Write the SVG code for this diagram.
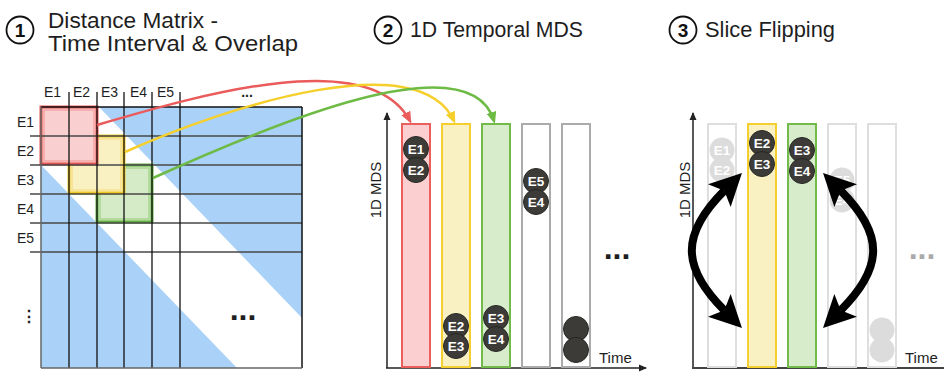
<svg xmlns="http://www.w3.org/2000/svg" width="944" height="374" viewBox="0 0 944 374">
<defs>
<style>
text{font-family:"Liberation Sans",Arial,sans-serif;fill:#1e1e1e}
.title{font-size:22.5px}
.num{font-size:19px;font-weight:bold;text-anchor:middle;fill:#111}
.numc{fill:none;stroke:#111;stroke-width:1.8}
.lbl{font-size:14px}
.vl{stroke:#111;stroke-width:1.3}
.hl{stroke:#474747;stroke-width:1.5}
.blue{fill:#aad2f8}
.br{fill:#fbcfcf;stroke:#ea5f5c;stroke-width:2}
.by{fill:#faf1c3;stroke:#f5cf30;stroke-width:2}
.bg{fill:#d6ecca;stroke:#72bb4a;stroke-width:2}
.bw{fill:#fff;stroke:#ababab;stroke-width:2}
.bf{fill:#fff;stroke:#dedede;stroke-width:2}
.dot{fill:#3c3b38;stroke:#262624;stroke-width:1}
.fdot{fill:#dcdcdc}
.dt{fill:#fff;font-size:13.5px;font-weight:bold;text-anchor:middle}
.axis{stroke:#222;stroke-width:1.5;fill:none}
.base{stroke:#444;stroke-width:2}
.ax{font-size:15px}
.ell{font-size:32px;font-weight:bold;text-anchor:middle}
.con{fill:none;stroke-width:2.5}
.flip{fill:none;stroke:#000;stroke-width:8}
</style>
<marker id="mr" markerUnits="userSpaceOnUse" markerWidth="12" markerHeight="10" refX="9" refY="5" orient="auto"><path d="M0,0 L12,5 L0,10 Z" fill="#ea5b5b"/></marker>
<marker id="my" markerUnits="userSpaceOnUse" markerWidth="12" markerHeight="10" refX="9" refY="5" orient="auto"><path d="M0,0 L12,5 L0,10 Z" fill="#f5cf2b"/></marker>
<marker id="mg" markerUnits="userSpaceOnUse" markerWidth="12" markerHeight="10" refX="9" refY="5" orient="auto"><path d="M0,0 L12,5 L0,10 Z" fill="#6dbb45"/></marker>
<marker id="mk" markerUnits="userSpaceOnUse" markerWidth="33" markerHeight="32" refX="7" refY="16" orient="auto-start-reverse"><path d="M0,0 L32,16 L0,32 L7,16 Z" fill="#000"/></marker>
<marker id="ma" markerUnits="userSpaceOnUse" markerWidth="8" markerHeight="8" refX="7" refY="4" orient="auto"><path d="M0,0.5 L8,4 L0,7.5 Z" fill="#222"/></marker>
</defs>
<rect width="944" height="374" fill="#fff"/>

<g id="title1">
<circle cx="20" cy="30" r="13.5" class="numc"/><text x="20" y="37" class="num">1</text>
<text x="48" y="28" class="title" textLength="170" lengthAdjust="spacingAndGlyphs">Distance Matrix -</text>
<text x="48" y="51" class="title" textLength="250" lengthAdjust="spacingAndGlyphs">Time Interval &amp; Overlap</text>
</g>
<g id="title2">
<circle cx="388" cy="30" r="13.5" class="numc"/><text x="388" y="37" class="num">2</text>
<text x="410" y="37" class="title" textLength="173" lengthAdjust="spacingAndGlyphs">1D Temporal MDS</text>
</g>
<g id="title3">
<circle cx="683" cy="30" r="13.5" class="numc"/><text x="683" y="37" class="num">3</text>
<text x="705" y="37" class="title" textLength="130" lengthAdjust="spacingAndGlyphs">Slice Flipping</text>
</g>

<g id="matrix">
<rect x="41" y="107" width="261" height="261" fill="#fff"/>
<polygon class="blue" points="99,107 302,107 302,318"/>
<polygon class="blue" points="41,165 237,368 41,368"/>
<g id="box-green"><rect x="97" y="165" width="55" height="57" fill="#d5ebc8" stroke="#5fae3c" stroke-width="3"/><rect x="100" y="168" width="49" height="51" fill="none" stroke="#a8d68c" stroke-width="1.5"/></g>
<g id="box-yellow"><rect x="69" y="136" width="55" height="57" fill="#faf1c3" stroke="#f0c823" stroke-width="3"/><rect x="72" y="139" width="49" height="51" fill="none" stroke="#f8e08a" stroke-width="1.5"/></g>
<g id="box-red"><rect x="41" y="107" width="56" height="57" fill="#f9cfcf" stroke="#e4524f" stroke-width="3"/><rect x="44" y="110" width="50" height="51" fill="none" stroke="#f3a5a4" stroke-width="1.5"/></g>
<line class="hl" x1="30" y1="136" x2="302" y2="136"/>
<line class="hl" x1="30" y1="165" x2="302" y2="165"/>
<line class="hl" x1="30" y1="194" x2="302" y2="194"/>
<line class="hl" x1="30" y1="223" x2="302" y2="223"/>
<line class="hl" x1="30" y1="252" x2="302" y2="252"/>
<line class="vl" x1="69" y1="92" x2="69" y2="368"/>
<line class="vl" x1="97" y1="92" x2="97" y2="368"/>
<line class="vl" x1="124" y1="92" x2="124" y2="368"/>
<line class="vl" x1="152" y1="92" x2="152" y2="368" stroke="#555"/>
<line class="vl" x1="180" y1="92" x2="180" y2="368"/>
<line x1="41" y1="107" x2="302" y2="107" stroke="#111" stroke-width="1.5"/>
<line x1="302" y1="107" x2="302" y2="368" stroke="#111" stroke-width="1.5"/>
<line x1="41" y1="107" x2="41" y2="368" stroke="#666" stroke-width="1.5"/>
<line x1="41" y1="368" x2="302" y2="368" stroke="#666" stroke-width="1.5"/>
<text class="lbl" x="44" y="97">E1</text>
<text class="lbl" x="73" y="97">E2</text>
<text class="lbl" x="101" y="97">E3</text>
<text class="lbl" x="130" y="97">E4</text>
<text class="lbl" x="157" y="97">E5</text>
<text class="lbl" x="247" y="97" text-anchor="middle" font-weight="bold">...</text>
<text class="lbl" x="17" y="127">E1</text>
<text class="lbl" x="17" y="156">E2</text>
<text class="lbl" x="17" y="185">E3</text>
<text class="lbl" x="17" y="214">E4</text>
<text class="lbl" x="17" y="243">E5</text>
<text x="29" y="322" font-size="16" font-family="DejaVu Sans, sans-serif" text-anchor="middle" font-weight="bold">⋮</text>
<text class="ell" x="243" y="320">...</text>
</g>

<g id="panel2">
<line class="axis" x1="387" y1="368" x2="387" y2="113" marker-end="url(#ma)"/>
<line class="axis" x1="386" y1="368" x2="646" y2="368" stroke-width="2" marker-end="url(#ma)"/>
<text class="ax" x="381" y="190" text-anchor="middle" transform="rotate(-90 381 190)">1D MDS</text>
<text class="ax" x="599" y="363">Time</text>
<g id="p2-bar1"><rect class="br" x="402" y="124" width="28" height="243"/>
<circle class="dot" cx="416" cy="149" r="12.5"/><text class="dt" x="416" y="154">E1</text>
<circle class="dot" cx="416" cy="170" r="12.5"/><text class="dt" x="416" y="175">E2</text></g>
<g id="p2-bar2"><rect class="by" x="442" y="124" width="28" height="243"/>
<circle class="dot" cx="456" cy="326" r="12.5"/><text class="dt" x="456" y="331">E2</text>
<circle class="dot" cx="456" cy="346" r="12.5"/><text class="dt" x="456" y="351">E3</text></g>
<g id="p2-bar3"><rect class="bg" x="482" y="124" width="28" height="243"/>
<circle class="dot" cx="496" cy="318" r="12.5"/><text class="dt" x="496" y="323">E3</text>
<circle class="dot" cx="496" cy="339" r="12.5"/><text class="dt" x="496" y="344">E4</text></g>
<g id="p2-bar4"><rect class="bw" x="522" y="124" width="28" height="243"/>
<circle class="dot" cx="536" cy="181" r="12.5"/><text class="dt" x="536" y="186">E5</text>
<circle class="dot" cx="536" cy="202" r="12.5"/><text class="dt" x="536" y="207">E4</text></g>
<g id="p2-bar5"><rect class="bw" x="562" y="124" width="28" height="243"/>
<circle class="dot" cx="576" cy="329" r="12.5"/>
<circle class="dot" cx="576" cy="350" r="12.5"/></g>
<text class="ell" x="617" y="259">...</text>
</g>

<g id="panel3">
<line class="axis" x1="693" y1="368" x2="693" y2="113" marker-end="url(#ma)"/>
<line class="base" x1="692" y1="368" x2="944" y2="368"/>
<text class="ax" x="690" y="190" text-anchor="middle" transform="rotate(-90 690 190)">1D MDS</text>
<text class="ax" x="905" y="363">Time</text>
<g id="p3-bar1"><rect class="bf" x="708" y="124" width="28" height="243"/>
<circle class="fdot" cx="722" cy="150" r="12.5"/><text class="dt" x="722" y="155">E1</text>
<circle class="fdot" cx="722" cy="170" r="12.5"/><text class="dt" x="722" y="175">E2</text></g>
<g id="p3-bar2"><rect class="by" x="748" y="124" width="28" height="243"/>
<circle class="dot" cx="762" cy="143" r="12.5"/><text class="dt" x="762" y="148">E2</text>
<circle class="dot" cx="762" cy="164" r="12.5"/><text class="dt" x="762" y="169">E3</text></g>
<g id="p3-bar3"><rect class="bg" x="788" y="124" width="28" height="243"/>
<circle class="dot" cx="802" cy="150" r="12.5"/><text class="dt" x="802" y="155">E3</text>
<circle class="dot" cx="802" cy="171" r="12.5"/><text class="dt" x="802" y="176">E4</text></g>
<g id="p3-bar4"><rect class="bf" x="828" y="124" width="28" height="243"/>
<circle class="fdot" cx="842" cy="180" r="12.5"/><text class="dt" x="842" y="185">E5</text>
<circle class="fdot" cx="842" cy="200" r="12.5"/><text class="dt" x="842" y="205">E4</text></g>
<g id="p3-bar5"><rect class="bf" x="868" y="124" width="28" height="243"/>
<circle class="fdot" cx="882" cy="330" r="12.5"/>
<circle class="fdot" cx="882" cy="350" r="12.5"/></g>
<text class="ell" x="922" y="259" style="fill:#aaa">...</text>
</g>

<g id="connectors">
<path class="con" stroke="#ea5b5b" d="M97,125 C200,95 370,45 410,121" marker-end="url(#mr)"/>
<path class="con" stroke="#f5cf2b" d="M125,152 C230,105 420,45 454,121" marker-end="url(#my)"/>
<path class="con" stroke="#6dbb45" d="M153,178 C270,125 470,40 494,121" marker-end="url(#mg)"/>
<path class="flip" d="M724.3,190.7 C681,234 681,267 724.3,310.3" marker-start="url(#mk)" marker-end="url(#mk)"/>
<path class="flip" d="M840.7,190.7 C884,234 884,267 840.7,310.3" marker-start="url(#mk)" marker-end="url(#mk)"/>
</g>
</svg>
